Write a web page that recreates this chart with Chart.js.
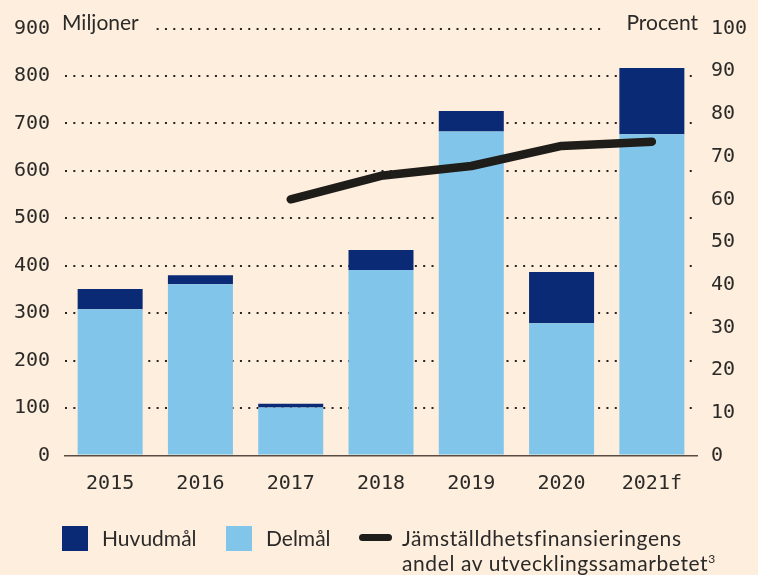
<!DOCTYPE html>
<html>
<head>
<meta charset="utf-8">
<script src="https://cdn.jsdelivr.net/npm/chart.js@4"></script>
<style>
  html, body { margin: 0; padding: 0; background: #fdeedd; }
  #wrap { position: relative; width: 758px; height: 575px; }
  #chart { position: absolute; left: 0; top: 0; }
  .legend { position: absolute; font-family: Lato, sans-serif; font-size: 21px; color: #2b2a28; line-height: 25px; white-space: nowrap; }
  .sw { position: absolute; width: 26px; height: 25px; }
  .ln { position: absolute; width: 33px; height: 7px; border-radius: 4px; background: #1f1d1a; }
  sup { font-size: 12px; vertical-align: 0; position: relative; top: -8px; }
</style>
</head>
<body>
<div id="wrap">
  <canvas id="chart" width="758" height="575"></canvas>
  <div class="sw" style="left:62px; top:526px; background:#0b2a75;"></div>
  <div class="legend" style="left:102px; top:525px;">Huvudmål</div>
  <div class="sw" style="left:226px; top:526px; background:#82c5ea;"></div>
  <div class="legend" style="left:266px; top:525px;">Delmål</div>
  <div class="ln" style="left:359px; top:534px;"></div>
  <div class="legend" style="left:402px; top:525px; letter-spacing:0.6px;">Jämställdhetsfinansieringens<br>andel av utvecklingssamarbetet<sup>3</sup></div>
</div>
<script>
// data
const years = ['2015', '2016', '2017', '2018', '2019', '2020', '2021f'];
const delmal = [308, 361, 101, 391, 683, 279, 677];     // miljoner
const huvudmal = [43, 19, 8, 42, 43, 108, 140];         // miljoner, ovanpå delmål
const andel = [null, null, 60.0, 65.5, 67.8, 72.5, 73.5]; // procent

const BG = '#fdeedd';
const TXT = '#2b2a28';
const monoFont = { family: '"DejaVu Sans Mono", monospace', size: 20 };

// cuts the top grid line for the unit labels and writes them
const unitLabels = {
    id: 'unitLabels',
    afterDatasetsDraw(chart) {
        const ctx = chart.ctx;
        const y = chart.scales.y.getPixelForValue(900);
        ctx.save();
        ctx.fillStyle = BG;
        ctx.fillRect(56, y - 6, 99, 12);
        ctx.fillRect(601, y - 6, 104, 12);
        ctx.fillStyle = TXT;
        ctx.font = '21px Lato, sans-serif';
        ctx.textBaseline = 'alphabetic';
        ctx.textAlign = 'left';
        ctx.fillText('Miljoner', 62, 30);
        ctx.textAlign = 'right';
        ctx.fillText('Procent', 698, 30);
        ctx.restore();
    }
};

new Chart(document.getElementById('chart'), {
    data: {
        labels: years,
        datasets: [
            {
                type: 'line',
                label: 'Jämställdhetsfinansieringens andel av utvecklingssamarbetet',
                data: andel,
                yAxisID: 'y1',
                borderColor: '#1f1d1a',
                borderWidth: 8.5,
                borderCapStyle: 'round',
                borderJoinStyle: 'round',
                pointRadius: 0,
                tension: 0,
                order: 0
            },
            {
                type: 'bar',
                label: 'Delmål',
                data: delmal,
                yAxisID: 'y',
                backgroundColor: '#82c5ea',
                barPercentage: 0.72,
                categoryPercentage: 1,
                order: 1
            },
            {
                type: 'bar',
                label: 'Huvudmål',
                data: huvudmal,
                yAxisID: 'y',
                backgroundColor: '#0b2a75',
                barPercentage: 0.72,
                categoryPercentage: 1,
                order: 1
            }
        ]
    },
    options: {
        responsive: false,
        animation: false,
        layout: { padding: { top: 28.5, left: 0, right: 0, bottom: 0 } },
        plugins: {
            legend: { display: false },
            tooltip: { enabled: false }
        },
        scales: {
            x: {
                stacked: true,
                grid: { display: false },
                border: { display: true, color: '#5b4c43', width: 1.5 },
                ticks: { color: TXT, font: monoFont, padding: 8, maxRotation: 0 },
                afterFit: s => { s.height = 119.5; }
            },
            y: {
                stacked: true,
                position: 'left',
                min: 0,
                max: 900,
                ticks: { stepSize: 100, color: TXT, font: monoFont, padding: 15 },
                grid: {
                    color: ctx => ctx.tick && ctx.tick.value === 0 ? 'rgba(0,0,0,0)' : '#262320',
                    lineWidth: 2,
                    drawTicks: false
                },
                border: { display: false, dash: [2, 6.33] },
                afterFit: s => { s.width = 65; }
            },
            y1: {
                position: 'right',
                min: 0,
                max: 100,
                ticks: { stepSize: 10, color: TXT, font: monoFont, padding: 14 },
                grid: { display: false, drawTicks: false },
                border: { display: false },
                afterFit: s => { s.width = 61; }
            }
        }
    },
    plugins: [unitLabels]
});
</script>
</body>
</html>
